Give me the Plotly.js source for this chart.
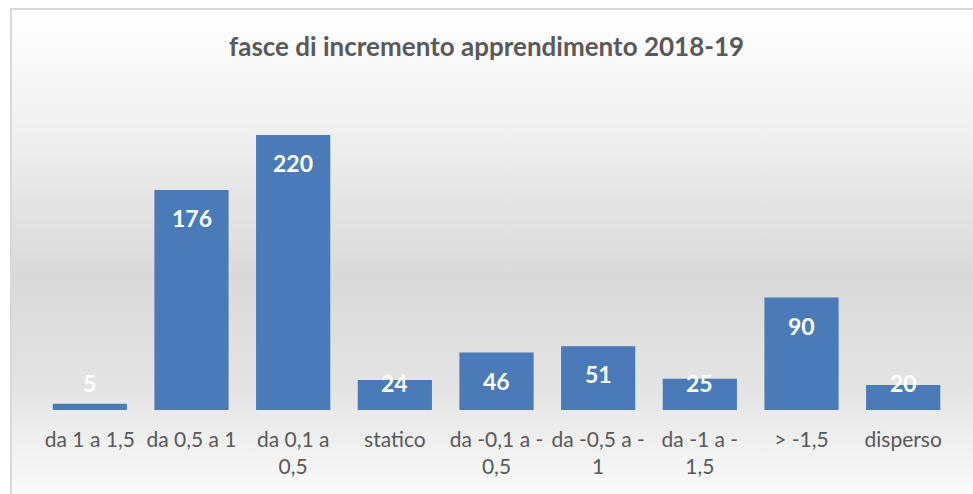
<!DOCTYPE html>
<html>
<head>
<meta charset="utf-8">
<script src="https://cdn.plot.ly/plotly-3.0.1.min.js"></script>
<style>
  html, body { margin: 0; padding: 0; background: #ffffff; }
  #frame {
    position: absolute; left: 10px; top: 8px; width: 963px; height: 486px;
    border-left: 2px solid #d9d9d9; border-top: 2px solid #d9d9d9;
    background: linear-gradient(to bottom, #ffffff 0%, #f2f2f2 22%, #d9d9d9 55%, #e4e4e4 78%, #fbfbfb 100%);
  }
  #chart { position: absolute; left: 0; top: 0; width: 973px; height: 494px; }
</style>
</head>
<body>
<div id="frame"></div>
<div id="chart"></div>
<script>
const categories = ["da 1 a 1,5", "da 0,5 a 1", "da 0,1 a<br>0,5", "statico", "da -0,1 a -<br>0,5", "da -0,5 a -<br>1", "da -1 a -<br>1,5", "> -1,5", "disperso"];
const values = [5, 176, 220, 24, 46, 51, 25, 90, 20];
const chartTitle = "fasce di incremento apprendimento 2018-19";

const labelFloor = 44;
const annotations = categories.map((c, i) => ({
  x: c, y: Math.max(values[i], labelFloor), xref: "x", yref: "y",
  text: "<b>" + values[i] + "</b>", showarrow: false,
  yanchor: "middle", yshift: -28,
  font: { family: "Lato, 'Open Sans', sans-serif", size: 23, color: "#ffffff" }
}));

const trace = {
  type: "bar", x: categories, y: values,
  marker: { color: "#4a7bb8", line: { width: 0 } },
  hoverinfo: "x+y"
};

const layout = {
  width: 973, height: 494,
  margin: { l: 39, r: 19, t: 100, b: 84 },
  paper_bgcolor: "rgba(0,0,0,0)", plot_bgcolor: "rgba(0,0,0,0)",
  title: { text: "<b>" + chartTitle + "</b>", x: 0.5, xanchor: "center", y: 1 - 47/494, yanchor: "middle",
           font: { family: "Lato, 'Open Sans', sans-serif", size: 26, color: "#595959" } },
  bargap: 0.27,
  showlegend: false,
  xaxis: { type: "category", showgrid: false, zeroline: false, showline: false, ticks: "",
           tickfont: { family: "Lato, 'Open Sans', sans-serif", size: 21, color: "#595959" },
           ticklabelstandoff: 15, fixedrange: true },
  yaxis: { range: [0, 248], visible: false, showgrid: false, zeroline: false, fixedrange: true },
  annotations: annotations
};

Plotly.newPlot("chart", [trace], layout, { displayModeBar: false, staticPlot: true });
</script>
</body>
</html>
